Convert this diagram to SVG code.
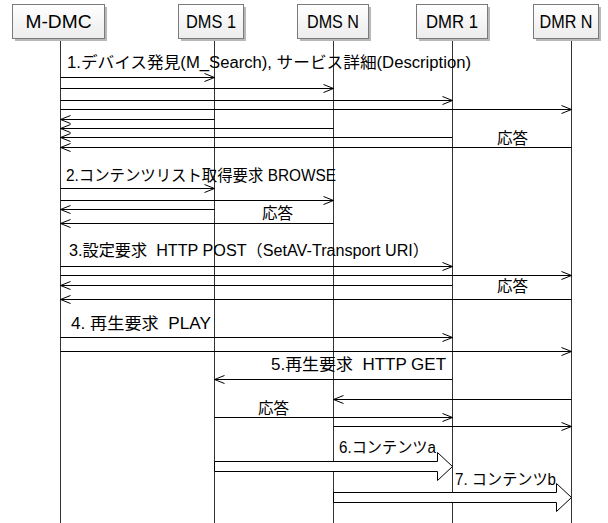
<svg xmlns="http://www.w3.org/2000/svg" width="608" height="523" viewBox="0 0 608 523">
<style>
.box{fill:url(#g);stroke:#7a7a7a;stroke-width:1}
.sh{fill:#b8b8b8}
.life{stroke:#333;stroke-width:1;fill:none}
.msg{stroke:#000;stroke-width:1;fill:none;marker-end:url(#ah)}
.blk{fill:#fff;stroke:#000;stroke-width:1}
.t{font-family:"Liberation Sans","Noto Sans CJK JP",sans-serif;font-size:16px;fill:#000;white-space:pre}
.bt{font-family:"Liberation Sans","Noto Sans CJK JP",sans-serif;font-size:18px;fill:#000;text-anchor:middle}
</style>
<defs>
<linearGradient id="g" x1="0" y1="0" x2="0" y2="1">
<stop offset="0" stop-color="#ffffff"/>
<stop offset="1" stop-color="#ececec"/>
</linearGradient>
<marker id="ah" markerUnits="userSpaceOnUse" markerWidth="12" markerHeight="10" refX="10" refY="4" orient="auto" overflow="visible">
<path d="M0,0 L10,4 L0,8" fill="none" stroke="#000" stroke-width="1"/>
</marker>
</defs>

<g id="lifelines">
<line class="life" x1="60.5" y1="38" x2="60.5" y2="523"/>
<line class="life" x1="214.5" y1="38" x2="214.5" y2="523"/>
<line class="life" x1="333.5" y1="38" x2="333.5" y2="523"/>
<line class="life" x1="452.5" y1="38" x2="452.5" y2="523"/>
<line class="life" x1="571.5" y1="38" x2="571.5" y2="523"/>
</g>

<g id="node-mdmc">
<rect class="sh" x="15" y="7" width="92" height="34"/>
<rect class="box" x="12.5" y="4.5" width="92" height="34"/>
<text class="bt" x="58.5" y="28" textLength="66" lengthAdjust="spacingAndGlyphs">M-DMC</text>
</g>
<g id="node-dms1">
<rect class="sh" x="181" y="7" width="65" height="34"/>
<rect class="box" x="178.5" y="4.5" width="65" height="34"/>
<text class="bt" x="211" y="28" textLength="50" lengthAdjust="spacingAndGlyphs">DMS 1</text>
</g>
<g id="node-dmsn">
<rect class="sh" x="300" y="7" width="71" height="34"/>
<rect class="box" x="297.5" y="4.5" width="71" height="34"/>
<text class="bt" x="333" y="28" textLength="52" lengthAdjust="spacingAndGlyphs">DMS N</text>
</g>
<g id="node-dmr1">
<rect class="sh" x="419" y="7" width="71" height="34"/>
<rect class="box" x="416.5" y="4.5" width="71" height="34"/>
<text class="bt" x="452" y="28" textLength="52" lengthAdjust="spacingAndGlyphs">DMR 1</text>
</g>
<g id="node-dmrn">
<rect class="sh" x="536" y="7" width="65" height="34"/>
<rect class="box" x="533.5" y="4.5" width="65" height="34"/>
<text class="bt" x="566" y="28" textLength="53" lengthAdjust="spacingAndGlyphs">DMR N</text>
</g>

<g id="connectors">
<line class="msg" x1="60.5" y1="77.5" x2="214.5" y2="77.5"/>
<line class="msg" x1="60.5" y1="88.5" x2="333.5" y2="88.5"/>
<line class="msg" x1="60.5" y1="100.5" x2="452.5" y2="100.5"/>
<line class="msg" x1="60.5" y1="109.5" x2="571.5" y2="109.5"/>
<line class="msg" x1="214.5" y1="119.5" x2="60.5" y2="119.5"/>
<line class="msg" x1="333.5" y1="128.5" x2="60.5" y2="128.5"/>
<line class="msg" x1="452.5" y1="137.5" x2="60.5" y2="137.5"/>
<line class="msg" x1="571.5" y1="147.5" x2="60.5" y2="147.5"/>

<line class="msg" x1="60.5" y1="188.5" x2="214.5" y2="188.5"/>
<line class="msg" x1="60.5" y1="200.5" x2="333.5" y2="200.5"/>
<line class="msg" x1="214.5" y1="209.5" x2="60.5" y2="209.5"/>
<line class="msg" x1="333.5" y1="223.5" x2="60.5" y2="223.5"/>

<line class="msg" x1="60.5" y1="266.5" x2="452.5" y2="266.5"/>
<line class="msg" x1="60.5" y1="275.5" x2="571.5" y2="275.5"/>
<line class="msg" x1="452.5" y1="285.5" x2="60.5" y2="285.5"/>
<line class="msg" x1="571.5" y1="299.5" x2="60.5" y2="299.5"/>

<line class="msg" x1="60.5" y1="337.5" x2="452.5" y2="337.5"/>
<line class="msg" x1="60.5" y1="351.5" x2="571.5" y2="351.5"/>
<line class="msg" x1="452.5" y1="379.5" x2="214.5" y2="379.5"/>
<line class="msg" x1="571.5" y1="399.5" x2="333.5" y2="399.5"/>
<line class="msg" x1="214.5" y1="417.5" x2="452.5" y2="417.5"/>
<line class="msg" x1="333.5" y1="426.5" x2="571.5" y2="426.5"/>

<polygon class="blk" points="214.5,461.5 437.5,461.5 437.5,452.5 452.5,466.5 437.5,480.5 437.5,471.5 214.5,471.5"/>
<polygon class="blk" points="333.5,492.5 556.5,492.5 556.5,483.5 571.5,497.5 556.5,511.5 556.5,502.5 333.5,502.5"/>
</g>

<g id="labels">
<text class="t" x="67" y="68" textLength="404" lengthAdjust="spacingAndGlyphs">1.デバイス発見(M_Search), サービス詳細(Description)</text>
<text class="t" x="497" y="144" textLength="31" lengthAdjust="spacingAndGlyphs">応答</text>
<text class="t" x="66" y="181" textLength="270" lengthAdjust="spacingAndGlyphs">2.コンテンツリスト取得要求 BROWSE</text>
<text class="t" x="262" y="219" textLength="31" lengthAdjust="spacingAndGlyphs">応答</text>
<text class="t" x="69" y="256" textLength="360" lengthAdjust="spacingAndGlyphs" xml:space="preserve">3.設定要求  HTTP POST（SetAV-Transport URI）</text>
<text class="t" x="497" y="292" textLength="31" lengthAdjust="spacingAndGlyphs">応答</text>
<text class="t" x="71" y="329" textLength="140" lengthAdjust="spacingAndGlyphs" xml:space="preserve">4. 再生要求  PLAY</text>
<text class="t" x="271" y="370" textLength="175" lengthAdjust="spacingAndGlyphs" xml:space="preserve">5.再生要求  HTTP GET</text>
<text class="t" x="258" y="414" textLength="31" lengthAdjust="spacingAndGlyphs">応答</text>
<text class="t" x="339" y="453" textLength="97" lengthAdjust="spacingAndGlyphs">6.コンテンツa</text>
<text class="t" x="455" y="485" textLength="101" lengthAdjust="spacingAndGlyphs">7. コンテンツb</text>
</g>
</svg>
